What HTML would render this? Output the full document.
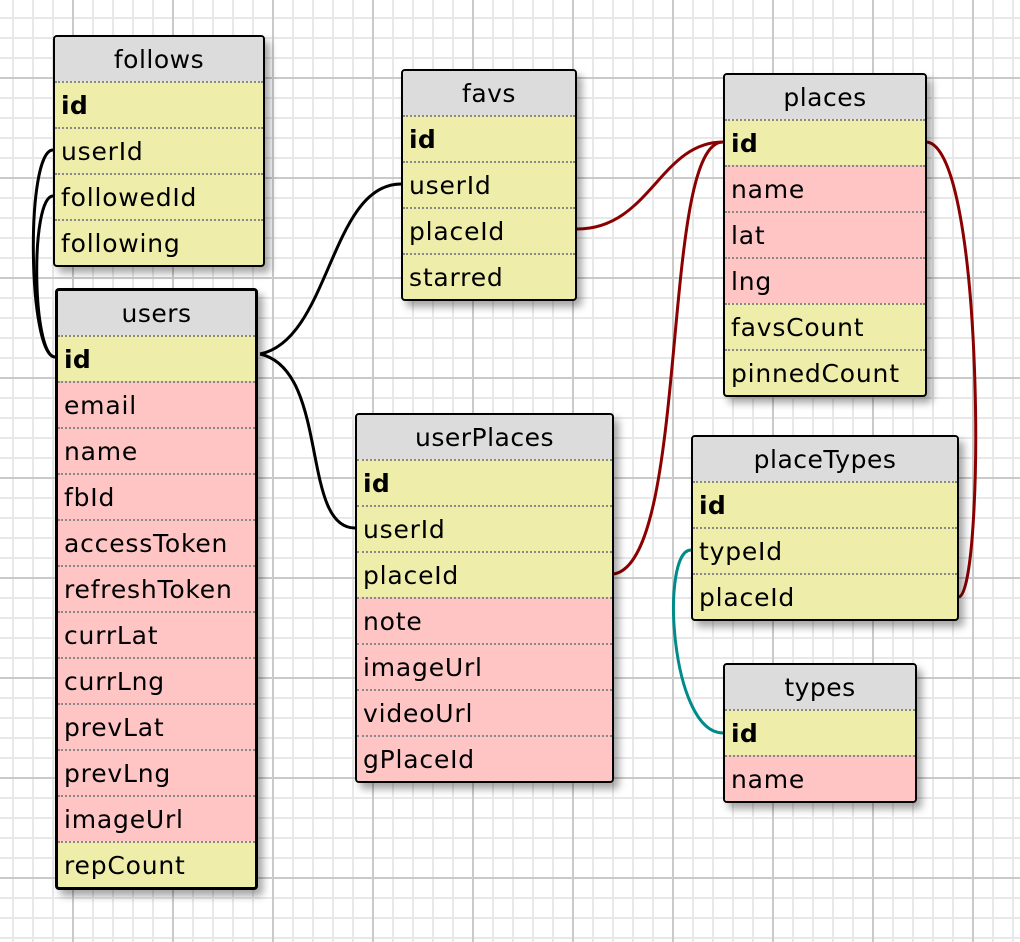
<!DOCTYPE html>
<html><head><meta charset="utf-8"><style>
body{margin:0;width:1020px;height:942px;overflow:hidden;position:relative;background:#fff;
background-image:
linear-gradient(to right,#cacaca 0,#cacaca 2px,transparent 2px),
linear-gradient(to bottom,#cacaca 0,#cacaca 2px,transparent 2px),
linear-gradient(to right,#e8e8e8 0,#e8e8e8 2px,transparent 2px),
linear-gradient(to bottom,#e8e8e8 0,#e8e8e8 2px,transparent 2px);
background-size:100px 100px,100px 100px,20px 20px,20px 20px;
background-position:72px 0,0 77px,12px 0,0 17px;
font-family:"DejaVu Sans","Liberation Sans",sans-serif;}
.t{position:absolute;border:2px solid #000;border-radius:4px;box-shadow:5px 6px 8px rgba(0,0,0,.35);overflow:hidden;background:#eeeeaa}
.t.b{border-width:3px}
.t div{height:46px;line-height:46px;font-size:25px;letter-spacing:0.8px;padding-left:6px;border-top:2px dotted #888;box-sizing:border-box;white-space:nowrap;color:#000}
.t div.h{background:#dcdcdc;text-align:center;border-top:none;padding-left:0;height:44px;line-height:46px;letter-spacing:0.5px}
.t div.p{background:#ffc4c4}
.t div.k{font-weight:bold;letter-spacing:0.3px}
svg{position:absolute;left:0;top:0}
</style></head><body>
<svg width="1020" height="942" fill="none" stroke-width="3">
<g stroke="#000">
<path d="M53,150 C25,150 28,357 55,357"/>
<path d="M53,196 C30,196 32,357 55,357"/>
<path d="M260,354 C330,340 330,184 401,184"/>
<path d="M260,354 C330,370 300,528 355,528"/>
</g>
<g stroke="#8b0000">
<path d="M577,229 C650,229 660,142 723,142"/>
<path d="M614,574 C690,560 660,142 723,142"/>
<path d="M927,142 C985,150 985,590 959,597"/>
</g>
<path stroke="#008b8b" d="M691,550 C660,550 670,733 723,733"/>
</svg>
<div class="t" style="left:53px;top:35px;width:208px">
<div class="h">follows</div><div class="k">id</div><div>userId</div><div>followedId</div><div>following</div></div>
<div class="t b" style="left:55px;top:288px;width:197px">
<div class="h">users</div><div class="k">id</div><div class="p">email</div><div class="p">name</div><div class="p">fbId</div><div class="p">accessToken</div><div class="p">refreshToken</div><div class="p">currLat</div><div class="p">currLng</div><div class="p">prevLat</div><div class="p">prevLng</div><div class="p">imageUrl</div><div>repCount</div></div>
<div class="t" style="left:401px;top:69px;width:172px">
<div class="h">favs</div><div class="k">id</div><div>userId</div><div>placeId</div><div>starred</div></div>
<div class="t" style="left:723px;top:73px;width:200px">
<div class="h">places</div><div class="k">id</div><div class="p">name</div><div class="p">lat</div><div class="p">lng</div><div>favsCount</div><div>pinnedCount</div></div>
<div class="t" style="left:355px;top:413px;width:255px">
<div class="h">userPlaces</div><div class="k">id</div><div>userId</div><div>placeId</div><div class="p">note</div><div class="p">imageUrl</div><div class="p">videoUrl</div><div class="p">gPlaceId</div></div>
<div class="t" style="left:691px;top:435px;width:264px">
<div class="h">placeTypes</div><div class="k">id</div><div>typeId</div><div>placeId</div></div>
<div class="t" style="left:723px;top:663px;width:190px">
<div class="h">types</div><div class="k">id</div><div class="p">name</div></div>
</body></html>
